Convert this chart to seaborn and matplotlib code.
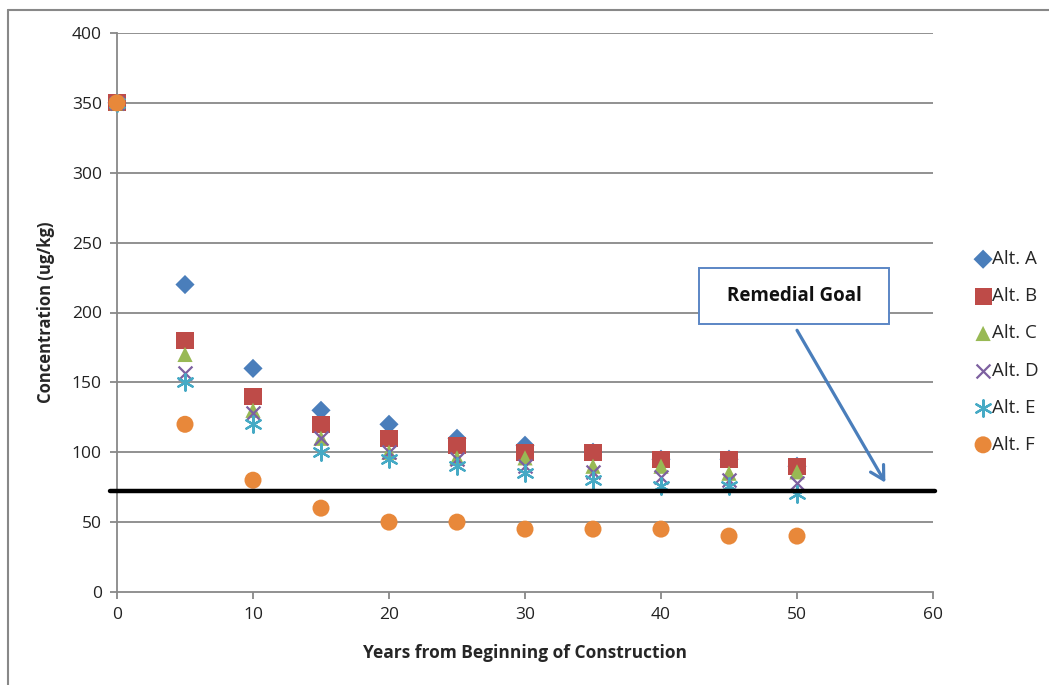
import matplotlib
matplotlib.use("Agg")
import matplotlib.pyplot as plt
import seaborn as sns
import pandas as pd
from matplotlib.lines import Line2D
from matplotlib.patches import Rectangle

years = [0, 5, 10, 15, 20, 25, 30, 35, 40, 45, 50]
alt_a = [350, 220, 160, 130, 120, 110, 105, 100, 95, 95, 90]
alt_b = [350, 180, 140, 120, 110, 105, 100, 100, 95, 95, 90]
alt_c = [350, 170, 130, 110, 100, 96, 96, 90, 90, 85, 86]
alt_d = [350, 157, 128, 110, 100, 95, 90, 86, 82, 80, 78]
alt_e = [350, 150, 120, 100, 95, 90, 85, 80, 76, 76, 70]
alt_f = [350, 120, 80, 60, 50, 50, 45, 45, 45, 40, 40]
series_names = ["Alt. A", "Alt. B", "Alt. C", "Alt. D", "Alt. E", "Alt. F"]
remedial_goal = 72
x_ticks = [0, 10, 20, 30, 40, 50, 60]
y_ticks = [0, 50, 100, 150, 200, 250, 300, 350, 400]

colors = ["#4A7EBB", "#BE4B48", "#98B954", "#7D60A0", "#46AAC5", "#E8883A"]
markers = ["D", "s", "^", "x", (6, 2, 0), "o"]
sizes = [95, 150, 120, 100, 140, 150]

sns.set_theme(style="white")
plt.rcParams["font.family"] = ["Open Sans", "DejaVu Sans"]

fig = plt.figure(figsize=(10.49, 6.85), dpi=100)
ax = fig.add_axes([117 / 1049, 93 / 685, (933 - 117) / 1049, (592 - 33) / 685])

gray = "#888888"
for yt in y_ticks[1:]:
    ax.axhline(yt, color=gray, lw=1.3, zorder=0)

values = [alt_a, alt_b, alt_c, alt_d, alt_e, alt_f]
for name, vals, c, m, s in zip(series_names, values, colors, markers, sizes):
    df = pd.DataFrame({"x": years, "y": vals})
    if m in ("x", (6, 2, 0)):
        sns.scatterplot(data=df, x="x", y="y", ax=ax, marker=m, s=s, color=c,
                        linewidth=1.6, label=name, zorder=3, clip_on=False)
    else:
        sns.scatterplot(data=df, x="x", y="y", ax=ax, marker=m, s=s, color=c,
                        edgecolor="none", linewidth=0, label=name, zorder=3,
                        clip_on=False)

ax.axhline(remedial_goal, xmin=-0.008, xmax=1.003, color="black", lw=3.2,
           zorder=4, clip_on=False)

ax.set_xlim(0, 60)
ax.set_ylim(0, 400)
ax.set_xticks(x_ticks)
ax.set_yticks(y_ticks)
ax.tick_params(axis="both", labelsize=12.5, colors=gray, labelcolor="#222222",
               direction="out", length=5, width=1.3, bottom=True, left=True)
ax.tick_params(axis="y", pad=6)
ax.tick_params(axis="x", pad=6)
for sp in ["top", "right"]:
    ax.spines[sp].set_visible(False)
for sp in ["left", "bottom"]:
    ax.spines[sp].set_color(gray)
    ax.spines[sp].set_linewidth(1.3)

ax.set_xlabel("Years from Beginning of Construction", fontsize=12.5,
              fontweight="bold", labelpad=15)
ax.set_ylabel("Concentration (ug/kg)", fontsize=12, fontweight="bold",
              labelpad=12)

# Remedial goal box and arrow
ax.add_patch(Rectangle((42.8, 191.5), 14.0, 40, facecolor="white",
                       edgecolor="#5B86C5", lw=1.4, zorder=5, clip_on=False))
ax.text(49.8, 212, "Remedial Goal", ha="center", va="center", fontsize=13.5,
        fontweight="bold", color="#111111", zorder=6)
ax.annotate("", xy=(56.6, 76.5), xytext=(49.9, 189),
            arrowprops=dict(arrowstyle="->,head_length=0.8,head_width=0.45",
                            color="#4A7EBB", lw=2.3), zorder=5,
            annotation_clip=False)

leg = ax.legend(loc="upper left", bbox_to_anchor=(1.043, 0.625), frameon=False,
                fontsize=13.5, labelspacing=1.02, handletextpad=0.1,
                handlelength=0.8, borderaxespad=0)

# outer chart border (partially visible)
fig.add_artist(Line2D([8 / 1049, 1.0], [1 - 10 / 685, 1 - 10 / 685],
                      color=gray, lw=1.5))
fig.add_artist(Line2D([8 / 1049, 8 / 1049], [0, 1 - 10 / 685],
                      color=gray, lw=1.5))

fig.savefig("out.png", dpi=100)
